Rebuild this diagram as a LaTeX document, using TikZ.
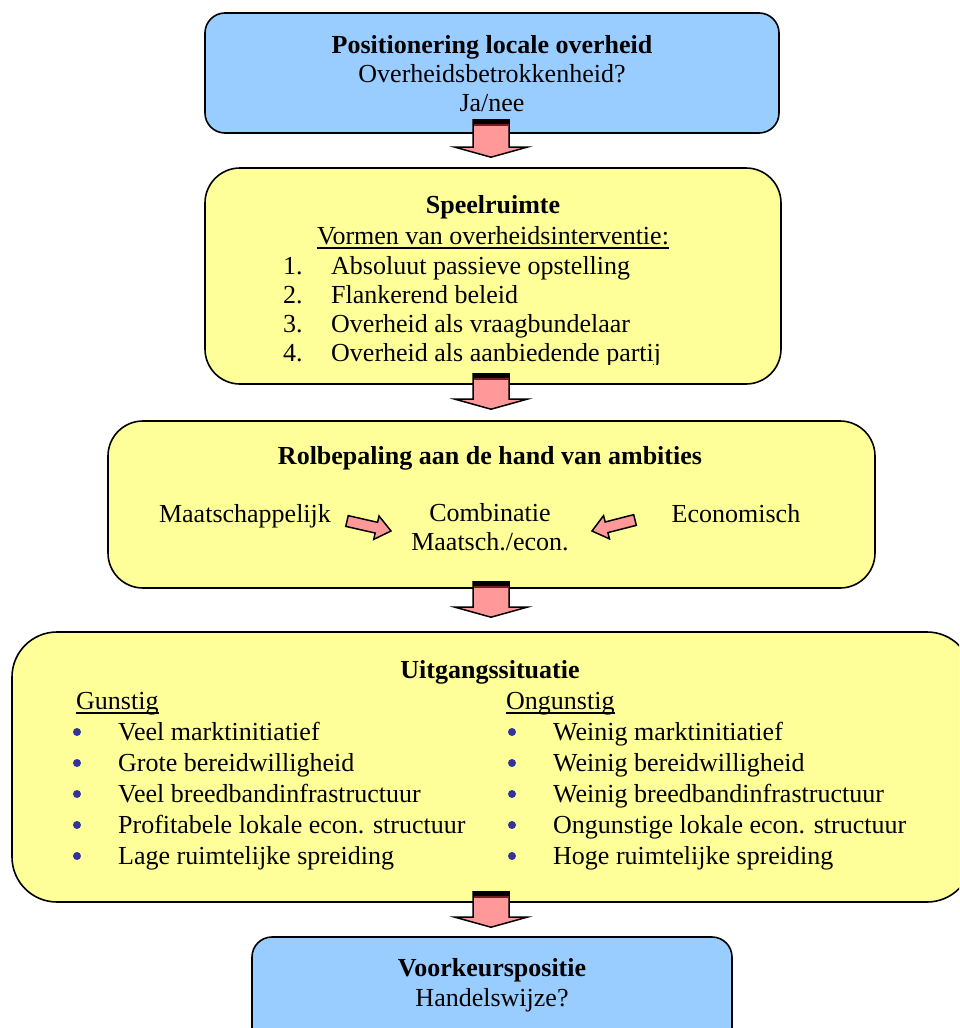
\documentclass[tikz,border=0pt]{standalone}
\usepackage{fontspec}
\setmainfont{Liberation Serif}
\usetikzlibrary{calc}
\definecolor{boxblue}{HTML}{99CCFF}
\definecolor{boxyellow}{HTML}{FFFF99}
\definecolor{arrowpink}{HTML}{FF9999}
\definecolor{bulletblue}{HTML}{333399}
\definecolor{banddark}{HTML}{6E1E1E}

% block arrow from tail #1 to tip #2: shaft half width #3, head half width #4, head length #5
\newcommand\blockarrow[5]{%
  \coordinate (ba-h) at ($(#2)!#5!(#1)$);
  \filldraw[arrowline]
    ($(#1)!#3!90:(#2)$) -- ($(ba-h)!#3!90:(#2)$) -- ($(ba-h)!#4!90:(#2)$) -- (#2)
    -- ($(ba-h)!#4!-90:(#2)$) -- ($(ba-h)!#3!-90:(#2)$) -- ($(#1)!#3!-90:(#2)$) -- cycle;
}
% dark band across the top of a downward block arrow
\newcommand\arrowband[1]{%
  \fill[black] ($(#1)+(-18,0)$) rectangle ($(#1)+(18,4)$);
  \draw[banddark, line width=1.3pt] ($(#1)+(-17,5.2)$) -- ($(#1)+(17,5.2)$);
}

\tikzset{
  box/.style={draw=black, line width=1.6pt, inner sep=0pt},
  bluebox/.style={box, fill=boxblue},
  yellowbox/.style={box, fill=boxyellow},
  txt/.style={anchor=base, inner sep=0pt, font=\fontsize{26}{30}\selectfont},
  lefttxt/.style={txt, anchor=base west},
  title/.style={txt, font=\fontsize{26}{30}\selectfont\bfseries},
  dot/.style={circle, fill=bulletblue, inner sep=0pt, minimum size=8pt},
  arrowline/.style={draw=black, fill=arrowpink, line width=1.5pt, line join=miter},
  uline/.style={line width=1.4pt},
}

\begin{document}
\begin{tikzpicture}[x=1pt, y=-1pt]
\useasboundingbox (0,0) rectangle (959,1028);
\clip (0,0) rectangle (959,1028);
\fill[white] (0,0) rectangle (959,1028);

% boxes
\node[bluebox, rounded corners=20pt, minimum width=574pt, minimum height=120pt] (b1) at (492,73) {};
\node[yellowbox, rounded corners=35pt, minimum width=576pt, minimum height=216pt] (b2) at (493,276) {};
\node[yellowbox, rounded corners=35pt, minimum width=767pt, minimum height=167pt] (b3) at (491.5,504.5) {};
\node[yellowbox, rounded corners=45pt, minimum width=960pt, minimum height=270pt] (b4) at (492,767) {};
\node[bluebox, rounded corners=20pt, minimum width=480pt, minimum height=126pt] (b5) at (492,1000) {};

% box 1
\node[title] (t1) at (492,53) {Positionering locale overheid};
\node[txt] (t1b) at (492,82) {Overheidsbetrokkenheid?};
\node[txt] (t1c) at (492,111) {Ja/nee};

% box 2
\node[title] (t2) at (493,213) {Speelruimte};
\node[txt] (vorm) at (493,244) {Vormen van overheidsinterventie:};
\draw[uline] ($(vorm.base west)+(0,4)$) -- ($(vorm.base east)+(0,4)$);
\node[lefttxt] (n1) at (283,274) {1.};
\node[lefttxt] (i1) at (331,274) {Absoluut passieve opstelling};
\node[lefttxt] (n2) at (283,303) {2.};
\node[lefttxt] (i2) at (331,303) {Flankerend beleid};
\node[lefttxt] (n3) at (283,332) {3.};
\node[lefttxt] (i3) at (331,332) {Overheid als vraagbundelaar};
\begin{scope}
  \clip (210,320) rectangle (775,364);
  \node[lefttxt] (n4) at (283,361) {4.};
  \node[lefttxt] (i4) at (331,361) {Overheid als aanbiedende partij};
\end{scope}

% box 3
\node[title] (t3) at (490,464) {Rolbepaling aan de hand van ambities};
\node[txt] (maat) at (245,522) {Maatschappelijk};
\node[txt] (comb) at (490,521) {Combinatie};
\node[txt] (comb2) at (490,550) {Maatsch./econ.};
\node[txt] (econ) at (736,522) {Economisch};
\coordinate (la-t) at (347,521);
\coordinate (la-p) at (391,531);
\coordinate (ra-t) at (635,520);
\coordinate (ra-p) at (592,531);
\blockarrow{la-t}{la-p}{5.5pt}{12pt}{15pt}
\blockarrow{ra-t}{ra-p}{5.5pt}{12pt}{15pt}

% box 4
\node[title] (t4) at (490,678) {Uitgangssituatie};
\node[lefttxt] (gun) at (76,709) {Gunstig};
\draw[uline] ($(gun.base west)+(0,4)$) -- ($(gun.base east)+(0,4)$);
\node[lefttxt] (ongun) at (506,709) {Ongunstig};
\draw[uline] ($(ongun.base west)+(0,4)$) -- ($(ongun.base east)+(0,4)$);
\foreach \k/\a/\b in {0/Veel marktinitiatief/Weinig marktinitiatief,
                      1/Grote bereidwilligheid/Weinig bereidwilligheid,
                      2/Veel breedbandinfrastructuur/Weinig breedbandinfrastructuur,
                      3/Profitabele lokale econ. structuur/Ongunstige lokale econ. structuur,
                      4/Lage ruimtelijke spreiding/Hoge ruimtelijke spreiding}{
  \node[dot] (gd\k) at (77,740+31*\k-8) {};
  \node[lefttxt] (gi\k) at (118,740+31*\k) {\a};
  \node[dot] (od\k) at (512,740+31*\k-8) {};
  \node[lefttxt] (oi\k) at (553,740+31*\k) {\b};
}

% box 5
\node[title] (t5) at (492,976) {Voorkeurspositie};
\node[txt] (t5b) at (492,1006) {Handelswijze?};

% downward arrows between the boxes
\coordinate (a1t) at ($(b1.south)+(-1,-14)$);
\coordinate (a1p) at ($(b2.north)+(-2,-10)$);
\coordinate (a2t) at ($(b2.south)+(-2,-11)$);
\coordinate (a2p) at ($(b3.north)+(-0.5,-11)$);
\coordinate (a3t) at ($(b3.south)+(-0.5,-7)$);
\coordinate (a3p) at ($(b4.north)+(-1,-14)$);
\coordinate (a4t) at ($(b4.south)+(-1,-11)$);
\coordinate (a4p) at ($(b5.north)+(-1,-9)$);
\foreach \s/\e in {a1t/a1p, a2t/a2p, a3t/a3p, a4t/a4p}{
  \blockarrow{\s}{\e}{18pt}{36pt}{10pt}
  \arrowband{\s}
}
\end{tikzpicture}
\end{document}
